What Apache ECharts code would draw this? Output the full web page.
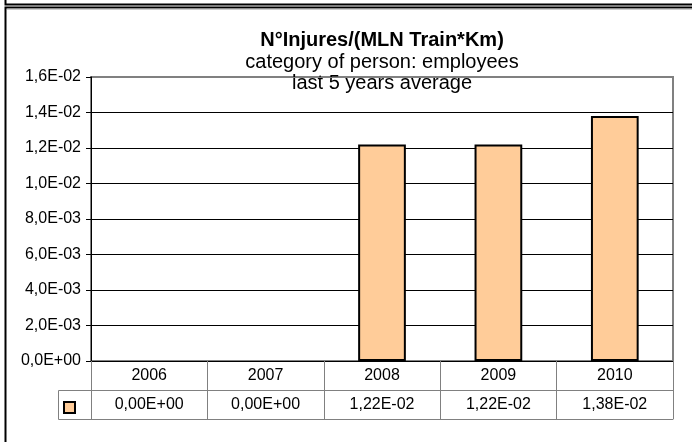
<!DOCTYPE html>
<html>
<head>
<meta charset="utf-8">
<script src="https://cdn.jsdelivr.net/npm/echarts@6/dist/echarts.min.js"></script>
<style>
  html, body { margin: 0; padding: 0; background: #fff; }
  #chart { width: 692px; height: 442px; }
</style>
</head>
<body>
<div id="chart"></div>
<script>
// data
const years = ['2006', '2007', '2008', '2009', '2010']
const injuries = [0, 0, 0.0122, 0.0122, 0.0138]
const titleLines = ['N°Injures/(MLN Train*Km)', 'category of person: employees', 'last 5 years average']

const FONT = '"Liberation Sans", Arial, sans-serif'

// Excel style scientific label: 1,22E-02
function sci(v, digits) {
  const parts = Number(v).toExponential(digits).split('e')
  const exp = parseInt(parts[1], 10)
  const sign = exp < 0 ? '-' : '+'
  const e = String(Math.abs(exp)).padStart(2, '0')
  return parts[0].replace('.', ',') + 'E' + sign + e
}

const chart = echarts.init(document.getElementById('chart'))

const gridColors = ['#000', '#000', '#000', '#000', '#000', '#000', '#000', '#000', '#808080']
const tableTick = { show: true, interval: 0, alignWithLabel: false, length: 29, lineStyle: { color: '#808080', width: 1 } }

chart.setOption({
  animation: false,
  textStyle: { fontFamily: FONT },
  grid: {
    left: 91, top: 77, width: 582, height: 284,
    show: true, borderColor: '#808080', borderWidth: 2
  },
  legend: {
    left: 58, top: 396, itemWidth: 11, itemHeight: 11, itemGap: 0,
    icon: 'rect', formatter: () => '',
    data: ['employees']
  },
  xAxis: [
    {
      type: 'category', data: years, gridIndex: 0, position: 'bottom',
      axisLine: { lineStyle: { color: '#000', width: 1 } },
      axisTick: tableTick,
      axisLabel: { color: '#000', fontSize: 16, margin: 7, interval: 0, fontFamily: FONT }
    },
    {
      type: 'category', data: injuries.map(v => sci(v, 2)), gridIndex: 0, position: 'bottom', offset: 29,
      axisLine: { lineStyle: { color: '#808080', width: 1 } },
      axisTick: tableTick,
      axisLabel: { color: '#000', fontSize: 16, margin: 7, interval: 0, fontFamily: FONT }
    },
    {
      type: 'category', data: years, gridIndex: 0, position: 'bottom', offset: 58,
      axisLine: { lineStyle: { color: '#808080', width: 1 } },
      axisTick: { show: false },
      axisLabel: { show: false }
    }
  ],
  yAxis: {
    type: 'value', min: 0, max: 0.016, interval: 0.002,
    axisLine: { show: true, lineStyle: { color: '#000', width: 1 } },
    axisTick: { show: true, length: 5, lineStyle: { color: '#000' } },
    axisLabel: { color: '#000', fontSize: 16, margin: 10, fontFamily: FONT, formatter: v => sci(v, 1) },
    splitLine: { lineStyle: { color: gridColors, width: 1 } }
  },
  series: [{
    name: 'employees',
    type: 'bar',
    xAxisIndex: 0,
    data: injuries.map(v => ({ value: v, itemStyle: v === 0 ? { borderWidth: 0 } : {} })),
    barWidth: '41%',
    itemStyle: { color: '#FFCC99', borderColor: '#000', borderWidth: 2 }
  }],
  graphic: [
    // outer frames
    { type: 'polyline', shape: { points: [[5.5, 0], [5.5, 4.5], [700, 4.5]] }, style: { stroke: '#000', fill: null, lineWidth: 2 } },
    { type: 'polyline', shape: { points: [[5.5, 450], [5.5, 7.5], [700, 7.5]] }, style: { stroke: '#000', fill: null, lineWidth: 2 } },
    { type: 'line', shape: { x1: 7, y1: 9, x2: 700, y2: 9 }, style: { stroke: '#999', lineWidth: 1 } },
    // legend key cell of the data table
    { type: 'polyline', shape: { points: [[91, 390.5], [58.5, 390.5], [58.5, 419.5], [91, 419.5]] }, style: { stroke: '#808080', fill: null, lineWidth: 1 } },
    // titles
    { type: 'text', x: 382, y: 40, style: { text: titleLines[0], font: 'bold 20px ' + FONT, fill: '#000', textAlign: 'center', textVerticalAlign: 'middle' } },
    { type: 'text', x: 382, y: 62, style: { text: titleLines[1], font: '20px ' + FONT, fill: '#000', textAlign: 'center', textVerticalAlign: 'middle' } },
    { type: 'text', x: 382, y: 83, style: { text: titleLines[2], font: '20px ' + FONT, fill: '#000', textAlign: 'center', textVerticalAlign: 'middle' } }
  ]
})
</script>
</body>
</html>
